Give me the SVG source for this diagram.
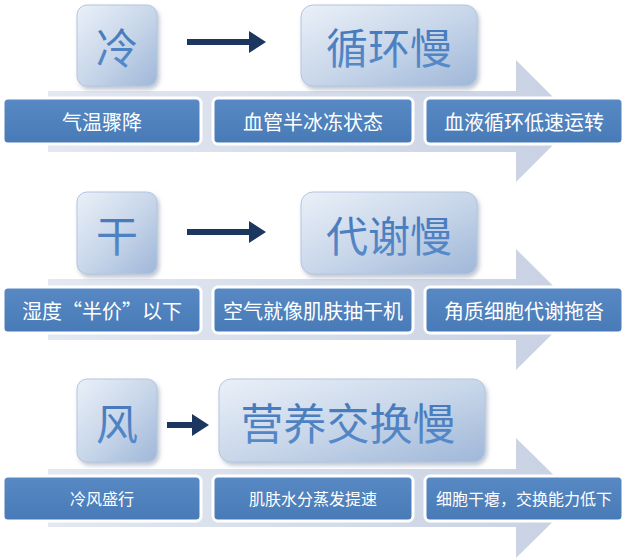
<svg xmlns="http://www.w3.org/2000/svg" width="628" height="560" viewBox="0 0 628 560">
<defs>
<style>
.big{font-family:"Noto Sans CJK SC","Noto Sans",sans-serif;fill:url(#tg);text-anchor:middle;dominant-baseline:central}
.sm{font-family:"Noto Sans CJK SC","Noto Sans",sans-serif;fill:#fff;text-anchor:middle;dominant-baseline:central}
.dark{fill:url(#dg);stroke:#fff;stroke-width:3}
.top{fill:url(#bg);stroke:#b3c6e0;stroke-width:1;filter:url(#sh)}
.band{fill:url(#ag)}
.nav{fill:#1b365f}
</style>
<linearGradient id="ag" x1="0" y1="0" x2="1" y2="0">
<stop offset="0" stop-color="#e3e8f1"/>
<stop offset="1" stop-color="#c8d1e3"/>
</linearGradient>
<linearGradient id="dg" x1="0" y1="0" x2="0" y2="1">
<stop offset="0" stop-color="#5889c5"/>
<stop offset="1" stop-color="#477ab6"/>
</linearGradient>
<linearGradient id="bg" x1="0" y1="0" x2="1" y2="1">
<stop offset="0" stop-color="#eaf0f8"/>
<stop offset="0.5" stop-color="#c9d7ea"/>
<stop offset="1" stop-color="#9fb7d8"/>
</linearGradient>
<linearGradient id="tg" x1="0" y1="0" x2="0" y2="1">
<stop offset="0" stop-color="#3f74b6"/>
<stop offset="1" stop-color="#5a8dcc"/>
</linearGradient>
<filter id="sh" x="-20%" y="-20%" width="140%" height="140%">
<feDropShadow dx="2" dy="3" stdDeviation="2" flood-color="#7d8da6" flood-opacity="0.5"/>
</filter>
</defs>
<rect width="628" height="560" fill="#fff"/>

<!-- background arrows -->
<path class="band" d="M48,91 H516 V60 L577,121 L516,182 V152 H48 Z"/>
<path class="band" d="M48,279 H516 V249 L577,309.5 L516,370 V340 H48 Z"/>
<path class="band" d="M48,469 H516 V438 L577,498 L516,558 V527 H48 Z"/>

<!-- row 1 -->
<g id="n-leng"><rect class="top" x="77" y="5" width="80" height="81" rx="10"/><text class="big" x="117" y="45" font-size="42">冷</text></g>
<g id="n-xunhuanman"><rect class="top" x="301" y="5" width="176" height="81" rx="12"/><text class="big" x="389" y="45" font-size="42">循环慢</text></g>
<g id="n-r1a"><rect class="dark" x="3" y="98" width="198" height="46" rx="5"/><text class="sm" x="102" y="121" font-size="20">气温骤降</text></g>
<g id="n-r1b"><rect class="dark" x="213" y="98" width="200" height="46" rx="5"/><text class="sm" x="313" y="121" font-size="20">血管半冰冻状态</text></g>
<g id="n-r1c"><rect class="dark" x="425" y="98" width="198" height="46" rx="5"/><text class="sm" x="524" y="121" font-size="20">血液循环低速运转</text></g>

<!-- row 2 -->
<g id="n-gan"><rect class="top" x="77" y="192" width="80" height="82" rx="10"/><text class="big" x="117" y="233" font-size="42">干</text></g>
<g id="n-daixieman"><rect class="top" x="301" y="192" width="176" height="82" rx="12"/><text class="big" x="389" y="233" font-size="42">代谢慢</text></g>
<g id="n-r2a"><rect class="dark" x="3" y="287" width="198" height="46" rx="5"/><text class="sm" x="102" y="310" font-size="20">湿度“半价”以下</text></g>
<g id="n-r2b"><rect class="dark" x="213" y="287" width="200" height="46" rx="5"/><text class="sm" x="313" y="310" font-size="20">空气就像肌肤抽干机</text></g>
<g id="n-r2c"><rect class="dark" x="425" y="287" width="198" height="46" rx="5"/><text class="sm" x="524" y="310" font-size="20">角质细胞代谢拖沓</text></g>

<!-- row 3 -->
<g id="n-feng"><rect class="top" x="77" y="379" width="80" height="83" rx="10"/><text class="big" x="117" y="421" font-size="42">风</text></g>
<g id="n-yingyang"><rect class="top" x="219" y="379" width="266" height="83" rx="12"/><text class="big" x="348" y="421" font-size="43">营养交换慢</text></g>
<g id="n-r3a"><rect class="dark" x="3" y="476" width="198" height="45" rx="5"/><text class="sm" x="102" y="498" font-size="16">冷风盛行</text></g>
<g id="n-r3b"><rect class="dark" x="213" y="476" width="200" height="45" rx="5"/><text class="sm" x="313" y="498" font-size="16">肌肤水分蒸发提速</text></g>
<g id="n-r3c"><rect class="dark" x="425" y="476" width="198" height="45" rx="5"/><text class="sm" x="524" y="498" font-size="16">细胞干瘪，交换能力低下</text></g>

<!-- connectors -->
<g id="connectors">
<path class="nav" d="M187,39 H249 V31 L266,42 L249,53 V45 H187 Z"/>
<path class="nav" d="M187,229 H249 V221 L266,232 L249,243 V235 H187 Z"/>
<path class="nav" d="M167,422 H192 V414 L209,425 L192,436 V428 H167 Z"/>
</g>
</svg>
